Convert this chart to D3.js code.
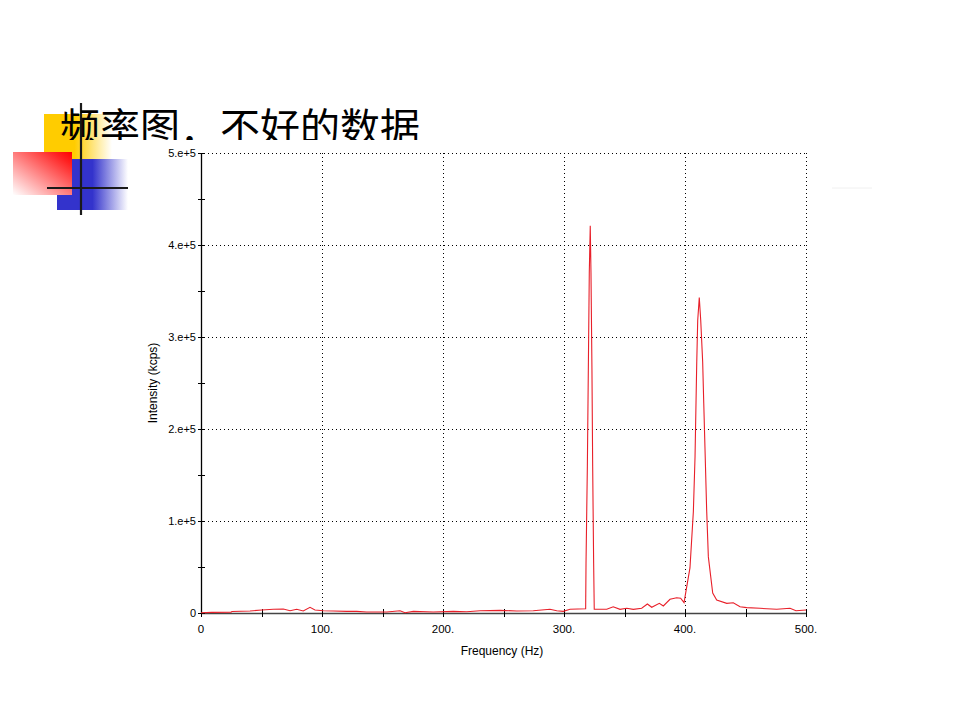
<!DOCTYPE html>
<html>
<head>
<meta charset="utf-8">
<script src="https://cdn.jsdelivr.net/npm/d3@7"></script>
<style>
  html, body { margin: 0; padding: 0; background: #fff; }
  svg { display: block; }
</style>
</head>
<body>
<svg id="chart" width="960" height="720"></svg>
<script>
// ---- data ----
const titleText = "频率图．不好的数据";
const xLabel = "Frequency (Hz)";
const yLabel = "Intensity (kcps)";

const frequency = [
  0, 8.8, 24.8, 25.6, 40.5, 50.2, 59.8, 68.0, 73.6, 79.1, 84.5, 90.1, 94.2,
  101.1, 109.3, 120.4, 128.7, 136.9, 153.5, 164.5, 168.6, 175.5, 192.0, 208.5,
  219.6, 230.6, 247.1, 260.9, 274.6, 288.4, 294.0, 299.4, 305.0, 317.9,
  318.2, 319.3, 320.1, 320.9, 321.7, 322.3, 323.1, 323.7, 324.5, 325.0,
  329.8, 335.3, 340.7, 346.3, 351.8, 357.3, 364.2, 368.9, 372.5, 378.8, 382.1,
  387.6, 393.1, 396.4, 399.2,
  404.1, 406.9, 408.3, 409.7, 410.5, 411.8, 413.0, 414.6, 415.5, 416.5, 417.9,
  419.3, 422.9, 426.2, 434.5, 439.9, 445.5, 451.0, 462.0, 475.8, 486.8, 491.7, 500
];
const intensity = [
  300, 700, 800, 1600, 2200, 3300, 4000, 4300, 2500, 4000, 2200, 6200, 3300,
  2500, 2200, 1800, 1800, 1100, 1100, 2500, 300, 1800, 1100, 1800,
  1400, 2500, 2900, 2200, 2500, 4000, 2500, 1800, 4000, 4700,
  54000, 159000, 264000, 370000, 421000, 370000, 264000, 159000, 54000, 4000,
  4000, 4000, 6800, 4000, 5100, 4000, 5100, 9800, 6200, 10500, 7600,
  14900, 16600, 16000, 11200,
  49000, 110000, 170000, 272000, 318000, 343000, 318000, 273000, 228000, 180000, 112000,
  61000, 21700, 14100, 10500, 11200, 6800, 5800, 5100, 4000, 5100, 2500, 3300
];
const xTicks = [0, 100, 200, 300, 400, 500];
const xTickLabels = ["0", "100.", "200.", "300.", "400.", "500."];
const xMinorTicks = [50, 150, 250, 350, 450];
const yTicks = [0, 100000, 200000, 300000, 400000, 500000];
const yTickLabels = ["0", "1.e+5", "2.e+5", "3.e+5", "4.e+5", "5.e+5"];
const yMinorTicks = [50000, 150000, 250000, 350000, 450000];

// ---- drawing ----
const svg = d3.select("#chart");
const defs = svg.append("defs");

const x = d3.scaleLinear().domain([0, 500]).range([201, 806]);
const y = d3.scaleLinear().domain([0, 500000]).range([613, 153]);

// decoration gradients
function grad(id, x1, y1, x2, y2, stops) {
  const g = defs.append("linearGradient").attr("id", id)
    .attr("x1", x1).attr("y1", y1).attr("x2", x2).attr("y2", y2);
  stops.forEach(s => g.append("stop").attr("offset", s[0]).attr("stop-color", s[1]));
}
grad("gYellow", "0", "0", "1", "0", [[0, "#ffcc00"], [0.45, "#ffcc00"], [1, "#ffffff"]]);
grad("gBlue", "0", "0", "1", "0", [[0, "#3333cc"], [0.5, "#3333cc"], [1, "#ffffff"]]);
grad("gRed", "1", "0", "0", "1", [[0, "#ff0000"], [0.15, "#ff2020"], [1, "#ffffff"]]);

const deco = svg.append("g");
deco.append("rect").attr("x", 44).attr("y", 114).attr("width", 68).attr("height", 60).attr("fill", "url(#gYellow)");
deco.append("rect").attr("x", 57).attr("y", 159).attr("width", 71).attr("height", 51).attr("fill", "url(#gBlue)");
deco.append("rect").attr("x", 13).attr("y", 152).attr("width", 59).attr("height", 43).attr("fill", "url(#gRed)");

// title (bottom clipped by the chart picture in the reference)
defs.append("clipPath").attr("id", "titleClip")
  .append("rect").attr("x", 0).attr("y", 90).attr("width", 960).attr("height", 50);
svg.append("text")
  .attr("x", 60).attr("y", 142)
  .attr("clip-path", "url(#titleClip)")
  .attr("font-family", "'Noto Sans CJK SC', sans-serif")
  .attr("font-size", 40)
  .attr("fill", "#000")
  .text(titleText);

deco.append("line").attr("x1", 81).attr("x2", 81).attr("y1", 103).attr("y2", 215)
  .attr("stroke", "#1a1a1a").attr("stroke-width", 2.2);
deco.append("line").attr("x1", 47).attr("x2", 128).attr("y1", 188).attr("y2", 188)
  .attr("stroke", "#1a1a1a").attr("stroke-width", 2.2);

// faint marks
svg.append("line").attr("x1", 832).attr("x2", 872).attr("y1", 188).attr("y2", 188)
  .attr("stroke", "#f0f0f0").attr("stroke-width", 1);

// grid
const grid = svg.append("g").attr("stroke", "#000").attr("stroke-width", 1)
  .attr("stroke-dasharray", "1,3").attr("fill", "none");
grid.selectAll("line.h").data(yTicks.filter(d => d > 0)).enter().append("line")
  .attr("x1", x(0) + 3).attr("x2", x(500)).attr("y1", d => Math.round(y(d)) + 0.5).attr("y2", d => Math.round(y(d)) + 0.5);
grid.selectAll("line.v").data(xTicks.filter(d => d > 0)).enter().append("line")
  .attr("x1", d => Math.round(x(d)) + 0.5).attr("x2", d => Math.round(x(d)) + 0.5)
  .attr("y1", y(500000)).attr("y2", y(0) - 3);

// axes lines
svg.append("line").attr("x1", x(0) + 0.5).attr("x2", x(0) + 0.5).attr("y1", y(500000)).attr("y2", y(0))
  .attr("stroke", "#000").attr("stroke-width", 1.3);
svg.append("line").attr("x1", x(0)).attr("x2", x(500)).attr("y1", y(0) + 0.5).attr("y2", y(0) + 0.5)
  .attr("stroke", "#444").attr("stroke-width", 1.6);

// ticks crossing the axes
const tk = svg.append("g").attr("stroke", "#000").attr("stroke-width", 1);
tk.selectAll("line.yt").data(yTicks.concat(yMinorTicks)).enter().append("line")
  .attr("x1", x(0) - 3).attr("x2", x(0) + 4)
  .attr("y1", d => Math.round(y(d)) + 0.5).attr("y2", d => Math.round(y(d)) + 0.5);
tk.selectAll("line.xt").data(xTicks.concat(xMinorTicks)).enter().append("line")
  .attr("x1", d => Math.round(x(d)) + 0.5).attr("x2", d => Math.round(x(d)) + 0.5)
  .attr("y1", y(0) - 4).attr("y2", y(0) + 4);

// tick labels
const lblFont = "Arial, 'Liberation Sans', sans-serif";
svg.append("g").selectAll("text").data(yTicks).enter().append("text")
  .attr("x", x(0) - 5).attr("y", d => y(d) + 4)
  .attr("text-anchor", "end").attr("font-family", lblFont).attr("font-size", 11).attr("fill", "#000")
  .text((d, i) => yTickLabels[i]);
svg.append("g").selectAll("text").data(xTicks).enter().append("text")
  .attr("x", d => x(d)).attr("y", y(0) + 20)
  .attr("text-anchor", "middle").attr("font-family", lblFont).attr("font-size", 11.5).attr("fill", "#000")
  .text((d, i) => xTickLabels[i]);

// axis titles
svg.append("text").attr("x", 502).attr("y", 655)
  .attr("text-anchor", "middle").attr("font-family", lblFont).attr("font-size", 12).attr("fill", "#000")
  .text(xLabel);
svg.append("text").attr("transform", "translate(157,383) rotate(-90)")
  .attr("text-anchor", "middle").attr("font-family", lblFont).attr("font-size", 12).attr("fill", "#000")
  .text(yLabel);

// data line
const pts = frequency.map((f, i) => [f, intensity[i]]);
svg.append("path").datum(pts)
  .attr("fill", "none").attr("stroke", "#e8202a").attr("stroke-width", 1.1)
  .attr("stroke-linejoin", "miter")
  .attr("d", d3.line().x(d => x(d[0])).y(d => y(d[1])));
</script>
</body>
</html>
